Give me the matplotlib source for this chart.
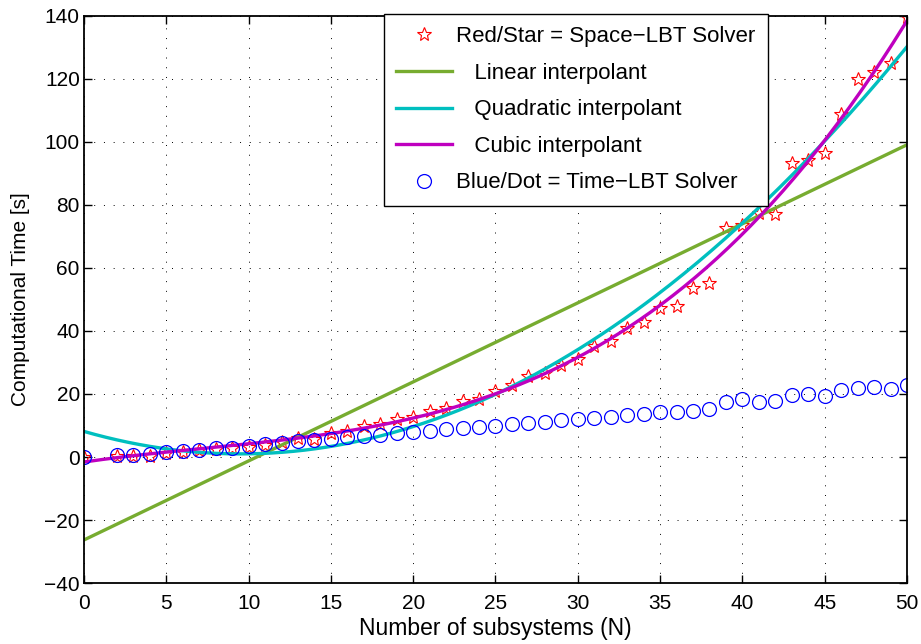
import numpy as np
import matplotlib
matplotlib.use("Agg")
import matplotlib.pyplot as plt

plt.rcParams['font.family'] = ['Liberation Sans', 'DejaVu Sans']

# number of subsystems (N = 1 not measured)
n_sub = [0] + list(range(2, 51))

# Space-LBT solver times [s]
space_lbt = [0.0, 0.4, 0.4, 0.2, 1.4, 1.7, 2.2, 2.6, 3.0, 3.3, 3.9, 4.9, 6.0, 5.6,
             7.7, 8.3, 9.8, 10.5, 12.0, 12.8, 14.7, 15.7, 17.8, 18.3, 21.0, 22.9,
             25.8, 26.6, 29.2, 31.0, 35.2, 36.9, 40.8, 42.8, 47.2, 47.9, 53.5,
             55.3, 72.6, 73.6, 77.4, 77.1, 93.2, 94.2, 96.4, 109.0, 120.0, 122.2,
             125.0, 139.8]

# Time-LBT solver times [s]
time_lbt = [0.0, 0.7, 0.7, 1.0, 1.5, 1.8, 2.2, 2.7, 3.0, 3.5, 4.0, 4.5, 5.0, 5.5,
            5.6, 6.2, 6.7, 7.0, 7.5, 8.0, 8.3, 8.8, 9.1, 9.4, 9.8, 10.5, 10.9,
            11.2, 11.6, 12.0, 12.4, 12.8, 13.3, 13.7, 14.2, 14.4, 14.7, 15.2,
            17.6, 18.3, 17.6, 17.9, 19.7, 20.0, 19.4, 21.3, 21.8, 22.3, 21.5, 22.9]

fig = plt.figure(figsize=(9.21, 6.44), dpi=100)
ax = fig.add_axes([0.0912, 0.0947, 0.8936, 0.8805])

xs = np.linspace(0, 50, 300)
p1 = np.polyfit(n_sub, space_lbt, 1)
p2 = np.polyfit(n_sub, space_lbt, 2)
p3 = np.polyfit(n_sub, space_lbt, 3)

ax.plot(n_sub, space_lbt, linestyle='none', marker='*', markersize=10.5,
        markerfacecolor='none', markeredgecolor='red', markeredgewidth=0.8,
        label='Red/Star = Space\u2212LBT Solver')
ax.plot(xs, np.polyval(p1, xs), color='#77AC30', lw=2.4, label='   Linear interpolant')
ax.plot(xs, np.polyval(p2, xs), color='#00BFBF', lw=2.4, label='   Quadratic interpolant')
ax.plot(xs, np.polyval(p3, xs), color='#BF00BF', lw=2.4, label='   Cubic interpolant')
ax.plot(n_sub, time_lbt, linestyle='none', marker='o', markersize=10,
        markerfacecolor='none', markeredgecolor='blue', markeredgewidth=0.9,
        label='Blue/Dot = Time\u2212LBT Solver')

ax.set_xlim(0, 50)
ax.set_ylim(-40, 140)
ax.set_xticks(range(0, 51, 5))
ax.set_yticks(range(-40, 141, 20))
ax.grid(True, color='black', linestyle=(0, (1, 9)), linewidth=0.7)
ax.tick_params(direction='in', top=True, right=True, labelsize=15, length=6,
               width=1.0, pad=3)
ax.tick_params(axis='x', pad=8)
for s in ax.spines.values():
    s.set_linewidth(1.3)

ax.set_xlabel('Number of subsystems (N)', fontsize=16.5, labelpad=3)
ax.set_ylabel('Computational Time [s]', fontsize=15, labelpad=10)

leg = ax.legend(loc='upper left', bbox_to_anchor=(0.3645, 1.0035), fontsize=16,
                fancybox=False, edgecolor='black', framealpha=1,
                handlelength=2.5, borderpad=0.55, labelspacing=0.7,
                handletextpad=0.2, borderaxespad=0)
leg.get_frame().set_linewidth(1.0)

fig.savefig('out.png', dpi=100)
